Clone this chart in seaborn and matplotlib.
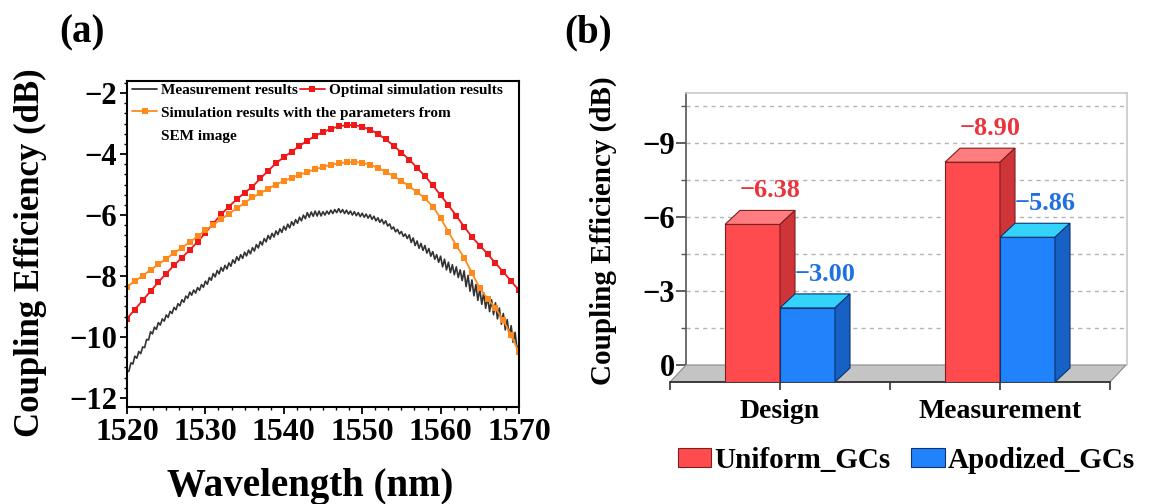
import numpy as np
import pandas as pd
import matplotlib.pyplot as plt
import seaborn as sns
from matplotlib.patches import Polygon, Patch
from matplotlib.lines import Line2D
from matplotlib.colors import to_rgb

# ---- dados (a): eficiencia de acoplamento vs comprimento de onda ----
wl_sim = np.arange(1520, 1571, 1.0)
ce_optimal = [-9.40, -9.10, -8.80, -8.50, -8.20, -7.92, -7.65, -7.40, -7.15, -6.88,
              -6.58, -6.28, -5.98, -5.72, -5.48, -5.27, -5.07, -4.80, -4.55, -4.30,
              -4.10, -3.92, -3.73, -3.56, -3.40, -3.28, -3.17, -3.09, -3.05, -3.05,
              -3.10, -3.20, -3.33, -3.52, -3.72, -3.95, -4.18, -4.45, -4.72, -5.02,
              -5.35, -5.68, -6.02, -6.38, -6.72, -7.00, -7.28, -7.58, -7.87, -8.17,
              -8.47]
ce_sem = [-8.35, -8.17, -7.99, -7.80, -7.62, -7.43, -7.25, -7.07, -6.89, -6.70,
          -6.50, -6.32, -6.14, -5.96, -5.78, -5.60, -5.42, -5.28, -5.14, -5.00,
          -4.88, -4.78, -4.68, -4.58, -4.50, -4.42, -4.35, -4.30, -4.27, -4.26,
          -4.28, -4.35, -4.45, -4.58, -4.72, -4.88, -5.05, -5.25, -5.45, -5.72,
          -6.10, -6.55, -7.00, -7.40, -7.90, -8.40, -8.75, -9.05, -9.45, -9.95,
          -10.50]

wl_meas = np.arange(1520, 1570.01, 0.25)
ce_meas = [-11.15, -11.12, -10.85, -10.89, -10.63, -10.70, -10.48, -10.55,
           -10.33, -10.35, -10.08, -10.10, -9.83, -9.90, -9.68, -9.75,
           -9.53, -9.61, -9.41, -9.48, -9.28, -9.36, -9.16, -9.23,
           -9.03, -9.11, -8.91, -8.98, -8.78, -8.86, -8.66, -8.73,
           -8.53, -8.63, -8.46, -8.56, -8.38, -8.47, -8.28, -8.37,
           -8.17, -8.27, -8.05, -8.14, -7.92, -8.03, -7.82, -7.93,
           -7.72, -7.84, -7.65, -7.77, -7.57, -7.68, -7.47, -7.58,
           -7.37, -7.49, -7.30, -7.42, -7.22, -7.34, -7.15, -7.27,
           -7.07, -7.18, -6.97, -7.08, -6.87, -6.98, -6.77, -6.88,
           -6.67, -6.79, -6.60, -6.72, -6.52, -6.64, -6.45, -6.57,
           -6.37, -6.49, -6.30, -6.42, -6.22, -6.34, -6.15, -6.27,
           -6.07, -6.19, -6.00, -6.12, -5.92, -6.07, -5.90, -6.04,
           -5.87, -6.03, -5.87, -6.03, -5.89, -6.00, -5.87, -5.97,
           -5.84, -5.95, -5.82, -5.92, -5.79, -5.92, -5.82, -5.95,
           -5.84, -5.97, -5.87, -6.00, -5.89, -6.02, -5.92, -6.05,
           -5.94, -6.07, -5.97, -6.10, -5.99, -6.14, -6.04, -6.19,
           -6.09, -6.24, -6.14, -6.29, -6.19, -6.36, -6.29, -6.46,
           -6.39, -6.55, -6.47, -6.62, -6.54, -6.70, -6.62, -6.77,
           -6.65, -6.90, -6.75, -7.00, -6.85, -7.09, -6.93, -7.16,
           -7.00, -7.25, -7.10, -7.35, -7.20, -7.45, -7.30, -7.55,
           -7.35, -7.70, -7.45, -7.80, -7.55, -7.89, -7.63, -7.96,
           -7.70, -8.05, -7.80, -8.15, -7.83, -8.35, -7.98, -8.50,
           -8.13, -8.65, -8.28, -8.80, -8.43, -8.93, -8.55, -9.06,
           -8.68, -9.17, -8.78, -9.27, -8.88, -9.41, -9.05, -9.58,
           -9.23, -9.77, -9.43, -9.97, -9.63, -10.18, -9.85, -10.41,
           -10.25]

# ---- dados (b): barras ----
categorias = ["Design", "Measurement"]
grupos = ["Uniform_GCs", "Apodized_GCs"]
valores_uniform = [-6.38, -8.90]
valores_apodized = [-3.00, -5.86]

sns.set_theme(style="white")
plt.rcParams['font.family'] = ['Liberation Serif', 'DejaVu Serif']
plt.rcParams['font.weight'] = 'bold'
plt.rcParams['axes.labelweight'] = 'bold'
plt.rcParams['text.color'] = 'black'
plt.rcParams['axes.labelcolor'] = 'black'
plt.rcParams['xtick.color'] = 'black'
plt.rcParams['ytick.color'] = 'black'

W, H = 1159, 504
fig = plt.figure(figsize=(W / 100, H / 100), dpi=100)
fig.patch.set_facecolor("white")


def rect(l, t, r, b):
    return [l / W, (H - b) / H, (r - l) / W, (b - t) / H]


# ================= (a) =================
ax = fig.add_axes(rect(127, 81, 519, 407))
sns.lineplot(x=wl_meas, y=ce_meas, color="#333333", lw=1.2, ax=ax, sort=False)
sns.lineplot(x=wl_sim, y=ce_optimal, color="#f01818", lw=1.3, marker="s",
             markersize=4.3, markeredgewidth=0, ax=ax, sort=False)
sns.lineplot(x=wl_sim, y=ce_sem, color="#ff8a1c", lw=1.3, marker="s",
             markersize=4.3, markeredgewidth=0, ax=ax, sort=False)
ax.set_xlim(1520, 1570)
ax.set_ylim(-12.3, -1.6)
ax.set_xticks([1520, 1530, 1540, 1550, 1560, 1570])
ax.set_yticks([-12, -10, -8, -6, -4, -2])
ax.set_yticklabels(["\u221212", "\u221210", "\u22128", "\u22126", "\u22124", "\u22122"])
ax.set_xticks(np.arange(1520, 1570.1, 10 / 6), minor=True)
ax.set_yticks(np.arange(-12, -1.5, 1 / 3), minor=True)
ax.tick_params(axis="x", which="major", direction="out", length=5, width=1.3,
               labelsize=23, pad=3, bottom=True)
ax.tick_params(axis="y", which="major", direction="out", length=5, width=1.3,
               labelsize=22, pad=2, left=True)
ax.tick_params(axis="x", which="minor", direction="out", length=2.5, width=1.0,
               bottom=True)
ax.tick_params(axis="y", which="minor", direction="out", length=2.5, width=1.0,
               left=True)
for s in ax.spines.values():
    s.set_color("black")
    s.set_linewidth(1.5)
ax.set_xlabel("Wavelength (nm)", fontsize=28)
ax.set_ylabel("Coupling Efficiency (dB)", fontsize=25)
ax.xaxis.set_label_coords(0.467, -0.245)
ax.xaxis.label.set_va("center")
ax.yaxis.set_label_coords(-0.247, 0.472)
ax.yaxis.label.set_va("center")

h_meas = Line2D([], [], color="#333333", lw=1.3)
h_opt = Line2D([], [], color="#f01818", lw=1.3, marker="s", markersize=4.3,
               markeredgewidth=0)
h_sem = Line2D([], [], color="#ff8a1c", lw=1.3, marker="s", markersize=4.3,
               markeredgewidth=0)
leg1 = ax.legend([h_meas, h_opt], ["Measurement results", "Optimal simulation results"],
                 ncol=2, loc="center left", bbox_to_anchor=(0.013, 0.972),
                 frameon=False, fontsize=11, handlelength=1.65, handletextpad=0.25,
                 columnspacing=0.1, borderpad=0, borderaxespad=0)
ax.add_artist(leg1)
ax.legend([h_sem], ["Simulation results with the parameters from"],
          loc="center left", bbox_to_anchor=(0.013, 0.902), frameon=False,
          fontsize=11, handlelength=1.65, handletextpad=0.25, borderpad=0,
          borderaxespad=0)
ax.text(0.087, 0.831, "SEM image", transform=ax.transAxes, fontsize=11,
        fontweight="bold", va="center", ha="left")

fig.text(82 / W, 1 - 33 / H, "(a)", fontsize=28, fontweight="bold",
         ha="center", va="center")
fig.text(588 / W, 1 - 33 / H, "(b)", fontsize=28, fontweight="bold",
         ha="center", va="center")

# ================= (b) =================
px_unit = 24.7          # pixels por dB
ymax = 11.0
back = fig.add_axes(rect(686, 365 - ymax * px_unit, 1127, 365))
front = fig.add_axes(rect(670, 382 - ymax * px_unit, 1110, 382))
front.set_zorder(2)

# parede do fundo com grade
back.set_xlim(0, 1)
back.set_ylim(0, ymax)
for yg in np.arange(1.5, 10.6, 1.5):
    back.axhline(yg, color="#b4b4b4", lw=1.0, ls=(0, (3, 3)), zorder=0)
back.set_xticks([])
back.set_yticks([0, 3, 6, 9])
back.set_yticklabels(["0", "\u22123", "\u22126", "\u22129"])
back.set_yticks([1.5, 4.5, 7.5, 10.5], minor=True)
back.tick_params(axis="y", which="major", direction="out", length=7, width=1.2,
                 labelsize=22, pad=1, color="#444444", labelcolor="black", left=True)
back.tick_params(axis="y", which="minor", direction="out", length=3.5, width=1.0,
                 color="#555555", left=True)
back.spines["left"].set_color("#555555")
back.spines["left"].set_linewidth(1.2)
for side in ["top", "right"]:
    back.spines[side].set_color("#c8c8c8")
    back.spines[side].set_linewidth(1.2)
back.spines["bottom"].set_visible(False)
back.set_ylabel("Coupling Efficiency (dB)", fontsize=21)
back.yaxis.set_label_coords((603 - 686) / 441, 0.496)
back.yaxis.label.set_va("center")

# barras
df = pd.DataFrame({
    "categoria": categorias * 2,
    "grupo": [grupos[0]] * 2 + [grupos[1]] * 2,
    "valor": [abs(v) for v in valores_uniform] + [abs(v) for v in valores_apodized],
})
cores_frente = {"Uniform_GCs": "#ff4b4d", "Apodized_GCs": "#2183fb"}
cores_topo = {"Uniform_GCs": "#ff7d7f", "Apodized_GCs": "#33d3fc"}
cores_lado = {"Uniform_GCs": "#cf3538", "Apodized_GCs": "#1760c4"}
cores_borda = {"Uniform_GCs": "#7a1f22", "Apodized_GCs": "#0b3470"}
cores_texto = {"Uniform_GCs": "#ea333b", "Apodized_GCs": "#1f70e0"}

sns.barplot(data=df, x="categoria", y="valor", hue="grupo", order=categorias,
            hue_order=grupos, palette=cores_frente, width=0.5, saturation=1,
            legend=False, ax=front)
front.set_xlim(-0.5, 1.5)
front.set_ylim(0, ymax)
front.patch.set_alpha(0)

data_per_px_x = 2.0 / 440
fdx, fdy = 16 * data_per_px_x, 17 / px_unit      # profundidade do piso
bdx, bdy = 15 * data_per_px_x, 14 / px_unit      # profundidade das barras

piso = Polygon([(-0.5, 0), (1.5, 0), (1.5 + fdx, fdy), (-0.5 + fdx, fdy)],
               closed=True, facecolor="#c4c4c4", edgecolor="#8a8a8a", lw=0.8,
               zorder=1, clip_on=False)
front.add_patch(piso)

ref_rgb = {g: to_rgb(c) for g, c in cores_frente.items()}
bars = [p for p in front.patches if p is not piso]
for p in bars:
    fc = p.get_facecolor()[:3]
    g = min(grupos, key=lambda k: sum((a - b) ** 2 for a, b in zip(fc, ref_rgb[k])))
    z = 3 if g == grupos[0] else 4
    x0, w, h = p.get_x(), p.get_width(), p.get_height()
    p.set_edgecolor(cores_borda[g])
    p.set_linewidth(0.8)
    p.set_zorder(z)
    topo = Polygon([(x0, h), (x0 + w, h), (x0 + w + bdx, h + bdy), (x0 + bdx, h + bdy)],
                   closed=True, facecolor=cores_topo[g], edgecolor=cores_borda[g],
                   lw=0.8, zorder=z, clip_on=False)
    lado = Polygon([(x0 + w, 0), (x0 + w, h), (x0 + w + bdx, h + bdy), (x0 + w + bdx, bdy)],
                   closed=True, facecolor=cores_lado[g], edgecolor=cores_borda[g],
                   lw=0.8, zorder=z, clip_on=False)
    front.add_patch(topo)
    front.add_patch(lado)
    front.text(x0 + w / 2 + bdx / 2 + 10 * data_per_px_x, h + bdy + 0.8,
               f"\u2212{h:.2f}", color=cores_texto[g], fontsize=19,
               fontweight="bold", ha="center", va="center", zorder=6)

front.set_xticks([0, 1])
front.set_xticklabels(categorias)
front.set_xticks([-0.5, 0.5, 1.5], minor=True)
front.tick_params(axis="x", which="both", direction="out", length=6, width=1.2,
                  color="#333333", labelcolor="black", labelsize=20, pad=6,
                  bottom=True)
front.set_xlabel("")
front.set_ylabel("")
front.set_yticks([])
for side in ["top", "right", "left"]:
    front.spines[side].set_visible(False)
front.spines["bottom"].set_color("#333333")
front.spines["bottom"].set_linewidth(1.3)

handles = [Patch(facecolor=cores_frente[g], edgecolor=cores_borda[g], lw=0.8) for g in grupos]
fig.legend(handles, grupos, ncol=2, loc="center", bbox_to_anchor=(0.782, 0.087),
           frameon=False, fontsize=21, handlelength=1.15, handleheight=0.65,
           handletextpad=0.1, columnspacing=0.7)

fig.savefig("out.png", dpi=100)
